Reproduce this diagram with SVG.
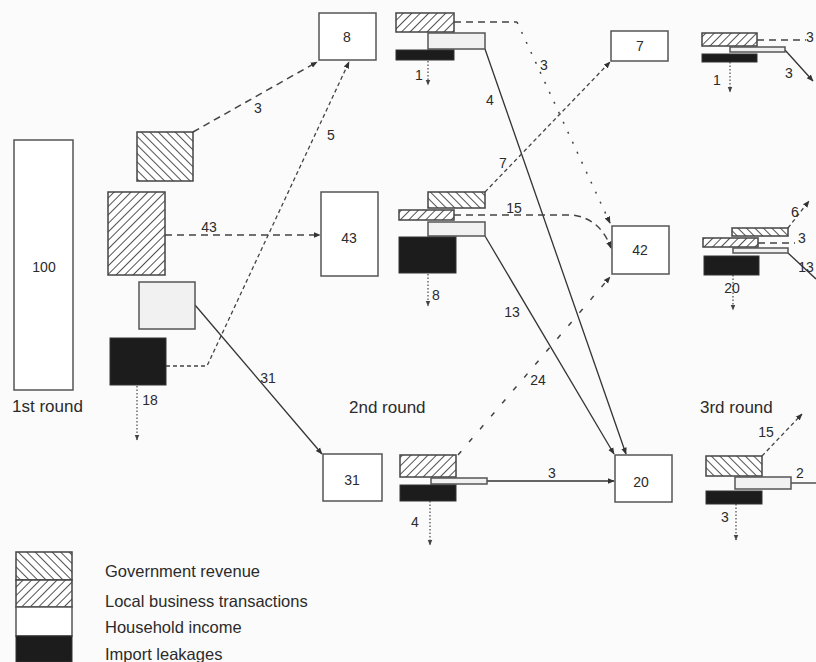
<svg xmlns="http://www.w3.org/2000/svg" width="816" height="662" viewBox="0 0 816 662">
<defs>
<style>
.bg{fill:#fbfbfb}
.box{fill:#fff;stroke:#555;stroke-width:1.5}
.hh{fill:#f1f1f1;stroke:#555;stroke-width:1.5}
.gov{fill:url(#pGov);stroke:#444;stroke-width:1.5}
.loc{fill:url(#pLoc);stroke:#444;stroke-width:1.5}
.imp{fill:#1c1c1c;stroke:#333;stroke-width:1}
.t{font-family:"Liberation Sans",Arial,sans-serif;fill:#2b2b2b}
.n{font-size:14px;text-anchor:middle}
.r{font-size:17px}
.lg{font-size:16.5px}
.solid{fill:none;stroke:#333;stroke-width:1.3}
.dash{fill:none;stroke:#444;stroke-width:1.5;stroke-dasharray:7 5}
.fdash{fill:none;stroke:#444;stroke-width:1.3;stroke-dasharray:4 3}
.sparse{fill:none;stroke:#444;stroke-width:1.5;stroke-dasharray:2 9}
.sdash{fill:none;stroke:#444;stroke-width:1.5;stroke-dasharray:5 12}
.dot{fill:none;stroke:#555;stroke-width:1.3;stroke-dasharray:1.5 2}
</style>
<pattern id="pGov" patternUnits="userSpaceOnUse" width="6" height="6" patternTransform="rotate(-45)">
<rect width="6" height="6" fill="#fff"/><line x1="0" y1="0" x2="0" y2="6" stroke="#333" stroke-width="1.7"/>
</pattern>
<pattern id="pLoc" patternUnits="userSpaceOnUse" width="6" height="6" patternTransform="rotate(45)">
<rect width="6" height="6" fill="#fff"/><line x1="0" y1="0" x2="0" y2="6" stroke="#333" stroke-width="1.7"/>
</pattern>
<marker id="ah" viewBox="0 0 10 10" refX="9" refY="5" markerWidth="7" markerHeight="7" orient="auto" markerUnits="userSpaceOnUse">
<path d="M0,1 L10,5 L0,9 z" fill="#333"/>
</marker>
<marker id="ad" viewBox="0 0 10 10" refX="9" refY="5" markerWidth="6" markerHeight="6" orient="auto" markerUnits="userSpaceOnUse">
<path d="M0,1 L10,5 L0,9 z" fill="#444"/>
</marker>
</defs>
<rect class="bg" x="0" y="0" width="816" height="662"/>

<g id="connectors">
<path class="dash" d="M193,132 L317,62" marker-end="url(#ah)"/>
<path class="dash" d="M165,235 H320" marker-end="url(#ah)"/>
<path class="fdash" d="M166,366 H207 L349,62" marker-end="url(#ah)"/>
<path class="solid" d="M195,305 L322,454" marker-end="url(#ah)"/>
<path class="dot" d="M137,386 V440" marker-end="url(#ad)"/>
<path class="dash" d="M454,22 H517"/>
<path class="sparse" d="M517,22 L610,223" marker-end="url(#ah)"/>
<path class="solid" d="M485,49 L626,454" marker-end="url(#ah)"/>
<path class="dot" d="M428,61 V85" marker-end="url(#ad)"/>
<path class="fdash" d="M485,192 L610,62" marker-end="url(#ah)"/>
<path class="dash" d="M454,215 H572 Q600,218 611,248" marker-end="url(#ah)"/>
<path class="solid" d="M485,236 L614,454" marker-end="url(#ah)"/>
<path class="dot" d="M428,274 V306" marker-end="url(#ad)"/>
<path class="sdash" d="M458,455 L610,277" marker-end="url(#ah)"/>
<path class="solid" d="M487,481 H614" marker-end="url(#ah)"/>
<path class="dot" d="M430,501 V545" marker-end="url(#ad)"/>
<path class="dash" d="M757,40 H806"/>
<path class="solid" d="M785,50 L813,81" marker-end="url(#ah)"/>
<path class="dot" d="M730,62 V92" marker-end="url(#ad)"/>
<path class="fdash" d="M788,228 L809,201" marker-end="url(#ah)"/>
<path class="dash" d="M758,243 H795"/>
<path class="solid" d="M788,253 L816,279"/>
<path class="dot" d="M733,275 V310" marker-end="url(#ad)"/>
<path class="fdash" d="M762,456 L802,414" marker-end="url(#ah)"/>
<path class="solid" d="M791,483 H816"/>
<path class="dot" d="M736,504 V540" marker-end="url(#ad)"/>
</g>

<g id="labels-connectors" class="t n">
<text x="258" y="113">3</text>
<text x="209" y="232">43</text>
<text x="331" y="140">5</text>
<text x="268" y="383">31</text>
<text x="150" y="405">18</text>
<text x="419" y="80">1</text>
<text x="544" y="70">3</text>
<text x="490" y="105">4</text>
<text x="503" y="168">7</text>
<text x="514" y="213">15</text>
<text x="436" y="300">8</text>
<text x="512" y="317">13</text>
<text x="538" y="385">24</text>
<text x="552" y="478">3</text>
<text x="415" y="527">4</text>
<text x="717" y="85">1</text>
<text x="810" y="42">3</text>
<text x="789" y="78">3</text>
<text x="795" y="217">6</text>
<text x="802" y="243">3</text>
<text x="806" y="272">13</text>
<text x="732" y="293">20</text>
<text x="766" y="437">15</text>
<text x="800" y="478">2</text>
<text x="725" y="522">3</text>
</g>

<g id="n100">
<rect class="box" x="14" y="140" width="59" height="250"/>
<text class="t n" x="44" y="272">100</text>
</g>
<g id="r1">
<rect class="gov" x="137" y="132" width="56" height="49"/>
<rect class="loc" x="108" y="192" width="57" height="83"/>
<rect class="hh" x="139" y="282" width="56" height="47"/>
<rect class="imp" x="110" y="338" width="56" height="47"/>
</g>

<g id="n8"><rect class="box" x="319" y="13" width="57" height="47"/><text class="t n" x="347" y="42">8</text></g>
<g id="n43"><rect class="box" x="321" y="192" width="57" height="84"/><text class="t n" x="349" y="243">43</text></g>
<g id="n31"><rect class="box" x="323" y="454" width="59" height="47"/><text class="t n" x="352" y="485">31</text></g>

<g id="c8">
<rect class="loc" x="396" y="13" width="58" height="19"/>
<rect class="hh" x="428" y="33" width="57" height="16"/>
<rect class="imp" x="396" y="50" width="58" height="10"/>
</g>
<g id="c43">
<rect class="gov" x="428" y="192" width="57" height="16"/>
<rect class="loc" x="399" y="210" width="55" height="10"/>
<rect class="hh" x="428" y="222" width="57" height="14"/>
<rect class="imp" x="399" y="237" width="57" height="36"/>
</g>
<g id="c31">
<rect class="loc" x="400" y="455" width="56" height="22"/>
<rect class="hh" x="431" y="478" width="56" height="6"/>
<rect class="imp" x="400" y="485" width="56" height="16"/>
</g>

<g id="n7"><rect class="box" x="611" y="31" width="57" height="30"/><text class="t n" x="640" y="51">7</text></g>
<g id="n42"><rect class="box" x="612" y="226" width="57" height="48"/><text class="t n" x="640" y="255">42</text></g>
<g id="n20"><rect class="box" x="615" y="455" width="57" height="47"/><text class="t n" x="641" y="487">20</text></g>

<g id="c7">
<rect class="loc" x="702" y="33" width="55" height="13"/>
<rect class="hh" x="730" y="47" width="55" height="5"/>
<rect class="imp" x="702" y="54" width="55" height="8"/>
</g>
<g id="c42">
<rect class="gov" x="732" y="228" width="56" height="8"/>
<rect class="loc" x="703" y="238" width="55" height="9"/>
<rect class="hh" x="733" y="248" width="55" height="5"/>
<rect class="imp" x="704" y="256" width="55" height="19"/>
</g>
<g id="c20">
<rect class="gov" x="706" y="456" width="56" height="20"/>
<rect class="hh" x="735" y="477" width="56" height="12"/>
<rect class="imp" x="706" y="491" width="56" height="13"/>
</g>

<g id="round-labels" class="t r">
<text x="12" y="412">1st round</text>
<text x="349" y="413">2nd round</text>
<text x="700" y="413">3rd round</text>
</g>

<g id="legend">
<rect class="gov" x="16" y="552" width="56" height="28"/>
<rect class="loc" x="16" y="580" width="56" height="27"/>
<rect class="hh" x="16" y="607" width="56" height="29" style="fill:#fff"/>
<rect class="imp" x="16" y="636" width="56" height="26"/>
<g class="t lg">
<text x="105" y="577">Government revenue</text>
<text x="105" y="607">Local business transactions</text>
<text x="105" y="633">Household income</text>
<text x="105" y="660">Import leakages</text>
</g>
</g>
</svg>
